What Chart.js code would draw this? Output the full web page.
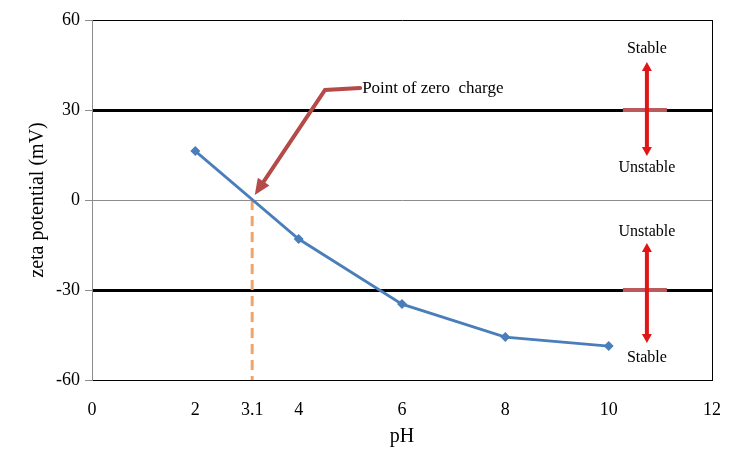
<!DOCTYPE html>
<html lang="en">
<head>
<meta charset="UTF-8">
<title>Zeta potential vs pH</title>
<script src="https://cdn.jsdelivr.net/npm/chart.js@4.4.0/dist/chart.umd.min.js"></script>
<style>
  body { margin: 0; background: #fff; }
</style>
</head>
<body>
<canvas id="zeta" width="736" height="461"></canvas>
<script>
// data
var phValues = [2, 4, 6, 8, 10];
var zetaValues = [16.3, -13, -34.7, -45.7, -48.7];
var pzc = 3.1;               // point of zero charge
var xTicks = [0, 2, 3.1, 4, 6, 8, 10, 12];
var yTicks = [-60, -30, 0, 30, 60];
var stabilityLimits = [30, -30];

var serif = "'Liberation Serif', 'Times New Roman', serif";

// arrows and labels on top of the plot
var notes = {
  id: 'notes',
  afterDatasetsDraw: function(chart) {
    var ctx = chart.ctx;
    var xs = chart.scales.x, ys = chart.scales.y;
    function px(v) { return xs.getPixelForValue(v); }
    function py(v) { return ys.getPixelForValue(v); }

    function head(x1, y1, x2, y2, len, wid, col) {
      var a = Math.atan2(y2 - y1, x2 - x1);
      ctx.save();
      ctx.translate(x2, y2);
      ctx.rotate(a);
      ctx.fillStyle = col;
      ctx.beginPath();
      ctx.moveTo(0, 0);
      ctx.lineTo(-len, -wid / 2);
      ctx.lineTo(-len, wid / 2);
      ctx.closePath();
      ctx.fill();
      ctx.restore();
    }

    ctx.save();
    // "Point of zero charge" callout
    var brown = '#b54b49';
    var sx = px(5.19), sy = py(37.3);
    var cx = px(4.51), cy = py(36.7);
    var tx = px(pzc + 0.05), ty = py(1.7);
    ctx.strokeStyle = brown;
    ctx.lineWidth = 4;
    ctx.lineCap = 'round';
    ctx.beginPath();
    ctx.moveTo(sx, sy);
    ctx.lineTo(cx, cy);
    // stop a bit before the tip so the head stays sharp
    var dx = tx - cx, dy = ty - cy, d = Math.sqrt(dx * dx + dy * dy);
    ctx.lineTo(tx - dx / d * 10, ty - dy / d * 10);
    ctx.stroke();
    head(cx, cy, tx, ty, 16, 14, brown);

    ctx.fillStyle = '#000';
    ctx.font = '17px ' + serif;
    ctx.textBaseline = 'middle';
    ctx.textAlign = 'left';
    ctx.fillText('Point of zero  charge', sx + 2, sy);

    // stable / unstable markers
    var ax = px(10.74);
    var red = '#e01515';
    function marker(limit, top, bottom, topText, bottomText, topLabel, bottomLabel) {
      ctx.strokeStyle = '#bb5a5a';
      ctx.lineWidth = 4;
      ctx.lineCap = 'butt';
      ctx.beginPath();
      ctx.moveTo(ax - 24, py(limit));
      ctx.lineTo(ax + 20, py(limit));
      ctx.stroke();

      var y1 = py(top), y2 = py(bottom);
      ctx.strokeStyle = red;
      ctx.lineWidth = 4;
      ctx.beginPath();
      ctx.moveTo(ax, y1 + 7);
      ctx.lineTo(ax, y2 - 7);
      ctx.stroke();
      head(ax, y2, ax, y1, 9, 10, red);
      head(ax, y1, ax, y2, 9, 10, red);

      ctx.fillStyle = '#000';
      ctx.font = '16px ' + serif;
      ctx.textAlign = 'center';
      ctx.fillText(topLabel, ax, py(topText));
      ctx.fillText(bottomLabel, ax, py(bottomText));
    }
    marker(stabilityLimits[0], 46, 14.7, 50.3, 10.7, 'Stable', 'Unstable');
    marker(stabilityLimits[1], -14.3, -47.7, -10.7, -52.7, 'Unstable', 'Stable');
    ctx.restore();
  }
};

var chart = new Chart(document.getElementById('zeta').getContext('2d'), {
  type: 'scatter',
  data: {
    datasets: [{
      label: 'zeta potential',
      data: phValues.map(function(p, i) { return { x: p, y: zetaValues[i] }; }),
      showLine: true,
      borderColor: '#4a7ebb',
      backgroundColor: '#4a7ebb',
      borderWidth: 2.8,
      pointStyle: 'rectRot',
      pointRadius: 5,
      pointBorderWidth: 0
    }, {
      label: 'pzc',
      data: [{ x: pzc, y: 0 }, { x: pzc, y: -60 }],
      showLine: true,
      borderColor: '#f5a263',
      borderWidth: 3,
      borderDash: [10, 6],
      pointRadius: 0
    }]
  },
  options: {
    responsive: false,
    animation: false,
    layout: { padding: { top: 20, right: 24, bottom: 0, left: 0 } },
    plugins: { legend: { display: false }, tooltip: { enabled: false } },
    scales: {
      x: {
        type: 'linear',
        min: 0, max: 12,
        afterBuildTicks: function(scale) {
          scale.ticks = xTicks.map(function(v) { return { value: v }; });
        },
        afterFit: function(scale) {
          scale.height = 81;
          scale.paddingRight = 0;
          scale.paddingLeft = 0;
        },
        grid: {
          drawTicks: false,
          color: function(c) { return c.tick && c.tick.value === 12 ? '#000' : 'rgba(0,0,0,0)'; },
          lineWidth: 1
        },
        border: { color: '#000', width: 1 },
        ticks: {
          padding: 19,
          color: '#000',
          font: { family: serif, size: 18 },
          callback: function(v) { return String(v); }
        },
        title: {
          display: true,
          text: 'pH',
          color: '#000',
          font: { family: serif, size: 20 },
          padding: { top: 0, bottom: 12 }
        }
      },
      y: {
        min: -60, max: 60,
        afterBuildTicks: function(scale) {
          scale.ticks = yTicks.map(function(v) { return { value: v }; });
        },
        afterFit: function(scale) {
          scale.width = 92;
          scale.paddingTop = 0;
          scale.paddingBottom = 0;
        },
        grid: {
          color: function(c) { return c.tick && c.tick.value === 0 ? '#8c8c8c' : '#000'; },
          lineWidth: function(c) { return c.tick && Math.abs(c.tick.value) === 30 ? 3 : 1; },
          tickColor: '#8c8c8c',
          tickWidth: 1,
          tickLength: 7
        },
        border: { color: '#8c8c8c', width: 1 },
        ticks: {
          padding: 5,
          color: '#000',
          font: { family: serif, size: 18 }
        },
        title: {
          display: true,
          text: 'zeta potential (mV)',
          color: '#000',
          font: { family: serif, size: 20 },
          padding: { top: 26, bottom: 0 }
        }
      }
    }
  },
  plugins: [notes]
});
</script>
</body>
</html>
